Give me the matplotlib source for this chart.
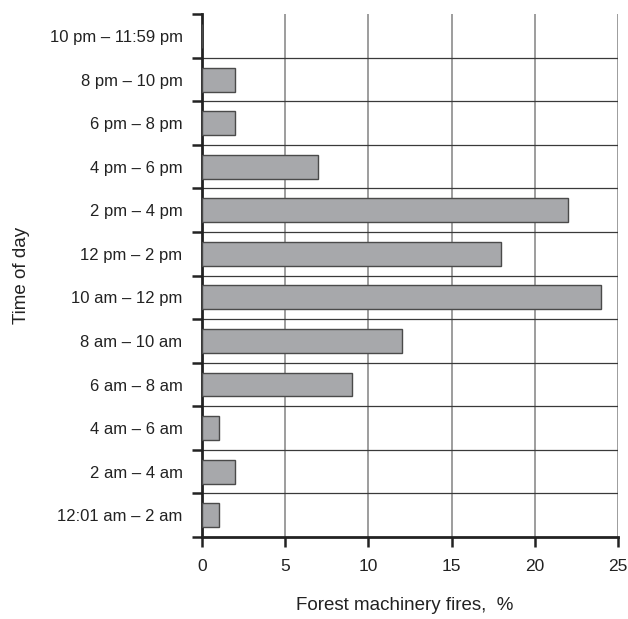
import matplotlib
matplotlib.use('Agg')
from matplotlib import pyplot as plt
import numpy as np

plt.rcParams['font.family'] = ['Liberation Sans', 'DejaVu Sans']

periods = ['12:01 am – 2 am', '2 am – 4 am', '4 am – 6 am', '6 am – 8 am',
           '8 am – 10 am', '10 am – 12 pm', '12 pm – 2 pm', '2 pm – 4 pm',
           '4 pm – 6 pm', '6 pm – 8 pm', '8 pm – 10 pm', '10 pm – 11:59 pm']
fires = [1, 2, 1, 9, 12, 24, 18, 22, 7, 2, 2, 0]
xticks = [0, 5, 10, 15, 20, 25]

fig = plt.figure(figsize=(6.28, 6.19), dpi=100)
ax = fig.add_axes([0.3217, 0.1325, 0.984 - 0.3217, 0.977 - 0.1325])

y = np.arange(len(periods))
ax.barh(y, fires, height=0.55, color='#a7a8ab', edgecolor='#4a4a4a',
        linewidth=1, zorder=3)

ax.set_xlim(0, 25)
ax.set_ylim(-0.5, len(periods) - 0.5)

# gridlines
for v in xticks[1:]:
    ax.axvline(v, color='#8c8c8c', linewidth=1.2, zorder=1)
for b in np.arange(-0.5, len(periods) - 0.5, 1)[1:]:
    ax.axhline(b, color='#3a3a3a', linewidth=0.9, zorder=1)

ax.set_xticks(xticks)
ax.set_yticks(y)
ax.set_yticklabels(periods)
ax.set_yticks(np.arange(-0.5, len(periods), 1), minor=True)
ax.tick_params(axis='y', which='major', length=0, pad=14, labelsize=12,
               labelcolor='#222222')
ax.tick_params(axis='y', which='minor', length=7, width=1.8, direction='out',
               color='#222222')
ax.tick_params(axis='x', length=7, width=1.8, direction='out', pad=9,
               labelsize=12.5, labelcolor='#222222', color='#222222')

for s in ['top', 'right']:
    ax.spines[s].set_visible(False)
ax.spines['left'].set_linewidth(2)
ax.spines['bottom'].set_linewidth(2)
ax.spines['left'].set_color('#222222')
ax.spines['bottom'].set_color('#222222')

# axis titles placed where the reference has them
fig.text(405 / 628, 1 - 606 / 619, 'Forest machinery fires,  %', fontsize=13.5,
         color='#222222', ha='center', va='center')
fig.text(22 / 628, 1 - 275 / 619, 'Time of day', fontsize=13.5,
         color='#222222', ha='center', va='center', rotation=90)

plt.savefig('out.png', dpi=100)
